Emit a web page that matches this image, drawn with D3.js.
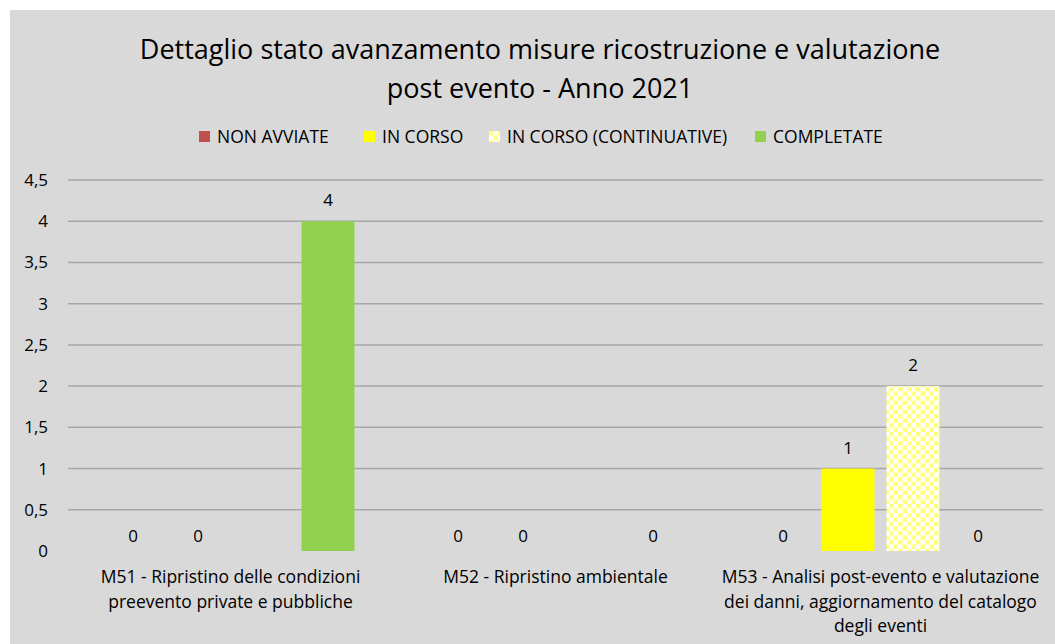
<html>
<head>
<meta charset="utf-8">
<script src="https://d3js.org/d3.v7.min.js"></script>
<style>
    body { margin: 0; background: #fff; }
    text { font-family: "Open Sans", sans-serif; fill: #000; }
</style>
</head>
<body>
<div id="chart"></div>
<script>
    // data
    var categories = ["M51", "M52", "M53"];
    var categoryLines = [
        ["M51 - Ripristino delle condizioni", "preevento private e pubbliche"],
        ["M52 - Ripristino ambientale"],
        ["M53 - Analisi post-evento e valutazione", "dei danni, aggiornamento del catalogo", "degli eventi"]
    ];
    var seriesNames = ["NON AVVIATE", "IN CORSO", "IN CORSO (CONTINUATIVE)", "COMPLETATE"];
    var nonAvviate = [0, 0, 0];
    var inCorso = [0, 0, 1];
    var continuative = [null, null, 2];
    var completate = [4, 0, 0];
    var yTicks = [0, 0.5, 1, 1.5, 2, 2.5, 3, 3.5, 4, 4.5];
    var titleLines = ["Dettaglio stato avanzamento misure ricostruzione e valutazione", "post evento - Anno 2021"];

    var seriesValues = [nonAvviate, inCorso, continuative, completate];
    var colors = ["#c0504d", "#ffff00", "url(#checker)", "#92d050"];

    var width = 1055, height = 644;
    var svg = d3.select("#chart").append("svg")
        .attr("width", width)
        .attr("height", height);

    // checker pattern for continuative
    var pat = svg.append("defs").append("pattern")
        .attr("id", "checker")
        .attr("patternUnits", "userSpaceOnUse")
        .attr("width", 9).attr("height", 9);
    pat.append("rect").attr("width", 9).attr("height", 9).attr("fill", "#ffffff");
    pat.append("rect").attr("width", 4.5).attr("height", 4.5).attr("fill", "#ffff80");
    pat.append("rect").attr("x", 4.5).attr("y", 4.5).attr("width", 4.5).attr("height", 4.5).attr("fill", "#ffff80");

    // chart area background
    svg.append("rect")
        .attr("x", 10).attr("y", 10)
        .attr("width", width).attr("height", height)
        .attr("fill", "#d9d9d9");

    // title
    svg.append("g").selectAll("text")
        .data(titleLines)
        .join("text")
        .attr("x", 540)
        .attr("y", function (d, i) { return 59 + i * 39; })
        .attr("text-anchor", "middle")
        .style("font-size", "27px")
        .text(function (d) { return d; });

    // scales
    var x0 = d3.scaleBand().domain(categories).range([68, 1043]);
    var x1 = d3.scaleBand().domain(seriesNames).range([0, x0.bandwidth()])
        .paddingInner(0.185).paddingOuter(0.5925);
    var y = d3.scaleLinear().domain([0, 4.5]).range([551, 180]);

    // grid
    svg.append("g").selectAll("line")
        .data(yTicks.filter(function (d) { return d > 0; }))
        .join("line")
        .attr("x1", 68).attr("x2", 1043)
        .attr("y1", function (d) { return y(d); })
        .attr("y2", function (d) { return y(d); })
        .attr("stroke", "#a6a6a6")
        .attr("stroke-width", 1.5);

    // y axis
    var yAxis = svg.append("g")
        .attr("transform", "translate(68,0)")
        .call(d3.axisLeft(y).tickValues(yTicks).tickSize(0).tickPadding(20)
            .tickFormat(function (d) { return String(d).replace(".", ","); }));
    yAxis.select(".domain").remove();
    yAxis.selectAll("text").style("font-size", "17px").style("font-family", "'Open Sans', sans-serif");

    // bars
    var groups = svg.append("g").selectAll("g")
        .data(categories)
        .join("g")
        .attr("transform", function (d) { return "translate(" + x0(d) + ",0)"; });

    groups.each(function (cat, ci) {
        var g = d3.select(this);
        seriesNames.forEach(function (s, si) {
            var v = seriesValues[si][ci];
            if (v === null) return;
            if (v > 0) {
                g.append("rect")
                    .attr("x", x1(s))
                    .attr("y", y(v))
                    .attr("width", x1.bandwidth())
                    .attr("height", y(0) - y(v))
                    .attr("fill", colors[si]);
            }
            g.append("text")
                .attr("x", x1(s) + x1.bandwidth() / 2)
                .attr("y", y(v) - (v > 0 ? 15 : 9))
                .attr("text-anchor", "middle")
                .style("font-size", "17px")
                .text(v);
        });
    });

    // category labels
    svg.append("g").selectAll("text")
        .data(categories)
        .join("text")
        .attr("text-anchor", "middle")
        .style("font-size", "17.5px")
        .attr("transform", function (d) { return "translate(" + (x0(d) + x0.bandwidth() / 2) + ",583)"; })
        .each(function (d, i) {
            d3.select(this).selectAll("tspan")
                .data(categoryLines[i])
                .join("tspan")
                .attr("x", 0)
                .attr("y", function (t, j) { return j * 24.5; })
                .text(function (t) { return t; });
        });

    // legend
    var legendX = [199, 364, 489, 755];
    var legend = svg.append("g").selectAll("g")
        .data(seriesNames)
        .join("g")
        .attr("transform", function (d, i) { return "translate(" + legendX[i] + ",131)"; });
    legend.append("rect")
        .attr("width", 11).attr("height", 11)
        .attr("fill", function (d, i) { return i == 2 ? "url(#checker)" : colors[i]; });
    legend.append("text")
        .attr("x", 18)
        .attr("y", 12)
        .style("font-size", "17.5px")
        .text(function (d) { return d; });
</script>
</body>
</html>
